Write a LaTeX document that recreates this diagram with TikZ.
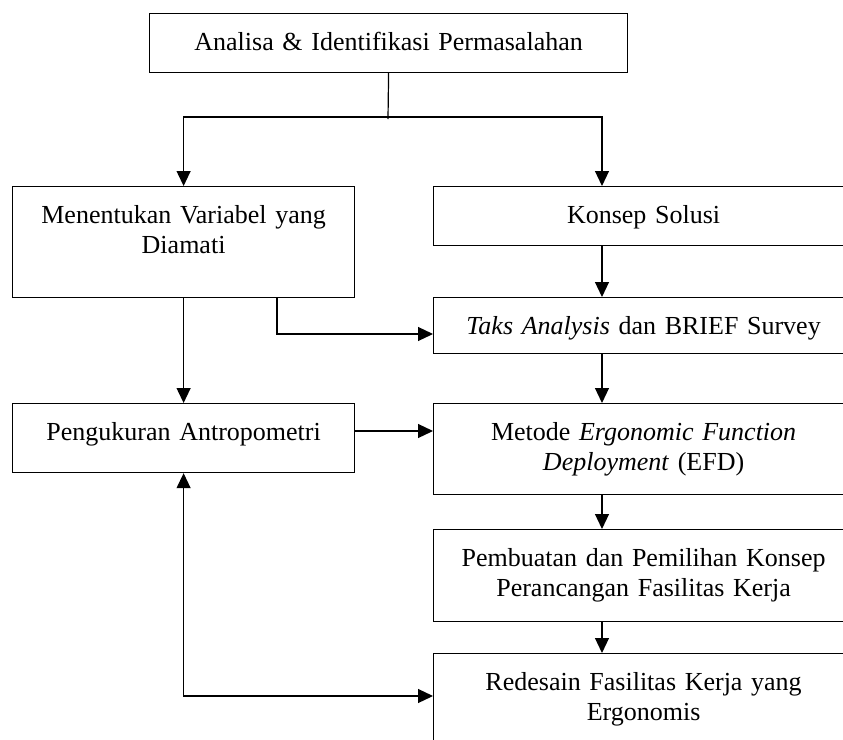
\documentclass[tikz,border=0pt]{standalone}
\usepackage{fontspec}
\setmainfont{Liberation Serif}
\usetikzlibrary{arrows.meta}
\tikzset{
  box/.style={draw, line width=0.6pt, anchor=north west, inner sep=0pt,
    align=center, text height=18.5pt},
  wide/.style={box, text width=210pt},
  arr/.style={line width=0.6pt, -{Triangle[length=7.5pt,width=7pt]}},
  arrboth/.style={line width=0.6pt, {Triangle[length=7.5pt,width=7pt]}-{Triangle[length=7.5pt,width=7pt]}}
}
\begin{document}
\begin{tikzpicture}[x=0.5pt, y=-0.5pt, font=\fontsize{13pt}{15pt}\selectfont]
\useasboundingbox (0,0) rectangle (843,740);
\clip (0,0) rectangle (843,740);
% boxes
\node[box, text width=239pt, text depth=11pt] (top) at (149,13) {Analisa \& Identifikasi Permasalahan};
\node[box, text width=171pt, text depth=37pt] (vars) at (12,186) {Menentukan Variabel yang\\Diamati};
\node[wide, text depth=11pt] (konsep) at (433,186) {Konsep Solusi};
\node[wide, text depth=9.5pt] (taks) at (433,297) {\textit{Taks Analysis} dan BRIEF Survey};
\node[box, text width=171pt, text depth=16pt] (peng) at (12,403) {Pengukuran Antropometri};
\node[wide, text depth=27pt] (metode) at (433,403) {Metode \textit{Ergonomic Function}\\\textit{Deployment} (EFD)};
\node[wide, text depth=27.5pt] (pemb) at (433,529) {Pembuatan dan Pemilihan Konsep\\Perancangan Fasilitas Kerja};
\node[wide, text depth=35.5pt] (red) at (433,653) {Redesain Fasilitas Kerja yang\\Ergonomis};
% connectors
\coordinate (split) at (388,117);
\coordinate (colx) at (602,0);
\coordinate (tap) at (277,334);
\coordinate (pengy) at (0,431);
\coordinate (loopy) at (0,696);
\draw[line width=0.6pt] (top.south) -- ([yshift=-1pt]split);
\draw[arr] (split) -| (vars.north);
\draw[arr] (split) -| (colx |- konsep.north);
\draw[arr] (colx |- konsep.south) -- (colx |- taks.north);
\draw[arr] (colx |- taks.south) -- (colx |- metode.north);
\draw[arr] (colx |- metode.south) -- (colx |- pemb.north);
\draw[arr] (colx |- pemb.south) -- (colx |- red.north);
\draw[arr] (vars.south -| tap) |- (taks.west |- tap);
\draw[arr] (vars.south) -- (peng.north);
\draw[arr] (peng.east |- pengy) -- (metode.west |- pengy);
\draw[arrboth] (peng.south) |- (red.west |- loopy);
\end{tikzpicture}
\end{document}
